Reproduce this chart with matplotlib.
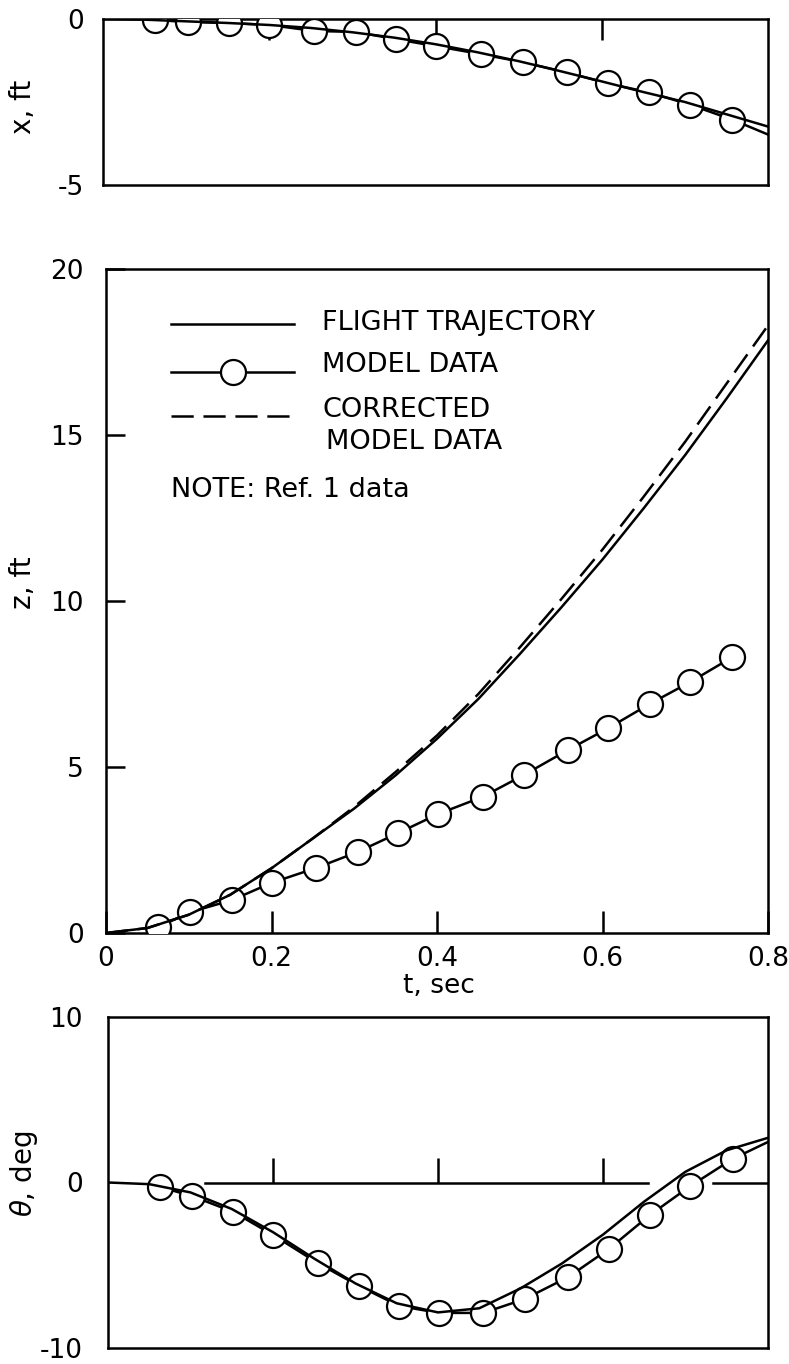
import numpy as np
import matplotlib.pyplot as plt

plt.rcParams['font.family'] = ['DejaVu Sans']
plt.rcParams['axes.unicode_minus'] = False
plt.rcParams['lines.scale_dashes'] = False

# time bases
t_fl = [0.0, 0.05, 0.10, 0.15, 0.20, 0.25, 0.30, 0.35, 0.40,
        0.45, 0.50, 0.55, 0.60, 0.65, 0.70, 0.75, 0.80]
t_mod = [0.063, 0.102, 0.152, 0.200, 0.254, 0.304, 0.353, 0.401,
         0.455, 0.505, 0.558, 0.607, 0.657, 0.706, 0.757]
t_end = 0.8

# x, ft
x_flight = [0, -0.02, -0.07, -0.12, -0.18, -0.27, -0.40, -0.56, -0.76,
            -1.00, -1.27, -1.57, -1.88, -2.20, -2.50, -2.87, -3.24]
x_model = [-0.03, -0.09, -0.12, -0.18, -0.36, -0.39, -0.61, -0.82,
           -1.06, -1.30, -1.61, -1.94, -2.21, -2.58, -3.03]
x_model_end = -3.48

# z, ft
z_flight = [0, 0.15, 0.55, 1.15, 1.95, 2.85, 3.75, 4.75, 5.85,
            7.05, 8.40, 9.80, 11.25, 12.80, 14.40, 16.10, 17.85]
z_corrected = [0, 0.15, 0.55, 1.15, 1.95, 2.85, 3.80, 4.85, 5.95,
               7.20, 8.60, 10.05, 11.55, 13.15, 14.80, 16.55, 18.30]
z_model = [0.18, 0.63, 0.99, 1.51, 1.96, 2.44, 3.01, 3.58,
           4.10, 4.76, 5.51, 6.17, 6.90, 7.56, 8.31]

# theta, deg
th_flight = [0, -0.1, -0.6, -1.6, -3.0, -4.6, -6.1, -7.3, -7.85,
             -7.6, -6.4, -4.9, -3.15, -1.15, 0.65, 1.95, 2.7]
th_model = [-0.27, -0.82, -1.78, -3.17, -4.86, -6.25, -7.46, -7.88,
            -7.88, -7.04, -5.71, -4.02, -1.96, -0.21, 1.42]
th_model_end = 2.45

t_marks = [0.2, 0.4, 0.6]
zero_spans = [(0.118, 0.655), (0.733, 0.8)]

LW = 1.8
circ = dict(marker='o', ms=18, mfc='white', mec='black', mew=1.6)

W, H = 789, 1364
fig = plt.figure(figsize=(W / 100, H / 100), dpi=100)


def box(left, top, right, bottom):
    return [left / W, 1 - bottom / H, (right - left) / W, (bottom - top) / H]


ax1 = fig.add_axes(box(103, 19, 768, 185))
ax2 = fig.add_axes(box(106, 269, 768, 933))
ax3 = fig.add_axes(box(108, 1017, 768, 1348))

for ax in (ax1, ax2, ax3):
    ax.set_xlim(0, 0.8)
    for s in ax.spines.values():
        s.set_linewidth(LW)

# --- x, ft
ax1.set_ylim(-5, 0)
ax1.plot(np.append(t_mod, t_end), np.append(x_model, x_model_end), color='black',
         lw=LW, markevery=list(range(len(t_mod))), zorder=3, **circ)
ax1.plot(t_fl, x_flight, color='black', lw=LW, zorder=4)
ax1.set_yticks([-5, 0])
ax1.set_yticklabels(['-5', '0'])
ax1.set_xticks(t_marks)
ax1.tick_params(axis='x', top=True, bottom=False, labelbottom=False,
                direction='in', length=15, width=LW)
ax1.tick_params(axis='y', length=0, pad=14, labelsize=19)
ax1.set_ylabel('x, ft', fontsize=20)
ax1.yaxis.set_label_coords(-0.099, 0.47)

# --- z, ft
ax2.set_ylim(0, 20)
ax2.plot(t_mod, z_model, color='black', lw=LW, zorder=3, **circ)
ax2.plot(t_fl, z_corrected, color='black', lw=LW, dashes=(16, 7), zorder=4)
ax2.plot(t_fl, z_flight, color='black', lw=LW, zorder=4)
ax2.set_yticks([0, 5, 10, 15, 20])
ax2.set_xticks([0, 0.2, 0.4, 0.6, 0.8])
ax2.set_xticklabels(['0', '0.2', '0.4', '0.6', '0.8'])
ax2.tick_params(axis='x', direction='in', length=16, width=LW, pad=9, labelsize=19)
ax2.tick_params(axis='y', direction='in', length=14, width=LW, pad=16, labelsize=19)
ax2.set_xlabel('t, sec', fontsize=19, labelpad=0)
ax2.xaxis.set_label_coords(0.503, -0.06)
ax2.set_ylabel('z, ft', fontsize=20)
ax2.yaxis.set_label_coords(-0.104, 0.527)

# key drawn inside the z panel
tr = ax2.transAxes
ax2.plot([0.098, 0.284], [0.917, 0.917], color='black', lw=LW, transform=tr)
ax2.plot([0.098, 0.284], [0.845, 0.845], color='black', lw=LW, transform=tr)
ax2.plot([0.192], [0.845], transform=tr, ls='none', **circ)
ax2.plot([0.098, 0.284], [0.779, 0.779], color='black', lw=LW,
         dashes=(16, 7), transform=tr)
key_fs = 19.5
kw = dict(transform=tr, fontsize=key_fs, va='baseline')
ax2.text(0.327, 0.908, 'FLIGHT TRAJECTORY', **kw)
ax2.text(0.327, 0.845, 'MODEL DATA', **kw)
ax2.text(0.327, 0.7775, 'CORRECTED', **kw)
ax2.text(0.332, 0.7295, 'MODEL DATA', **kw)
ax2.text(0.098, 0.657, 'NOTE: Ref. 1 data', **kw)

# --- theta, deg
ax3.set_ylim(-10, 10)
for a, b in zero_spans:
    ax3.plot([a, b], [0, 0], color='black', lw=LW)
ax3.vlines(t_marks, 0, 1.5, color='black', lw=LW)
ax3.plot(np.append(t_mod, t_end), np.append(th_model, th_model_end), color='black',
         lw=LW, markevery=list(range(len(t_mod))), zorder=3, **circ)
ax3.plot(t_fl, th_flight, color='black', lw=LW, zorder=4)
ax3.set_xticks([])
ax3.set_yticks([-10, 0, 10])
ax3.set_yticklabels(['-10', '0', '10'])
ax3.tick_params(axis='y', length=0, pad=18, labelsize=19)
ax3.set_ylabel(r'$\theta$, deg', fontsize=20)
ax3.yaxis.set_label_coords(-0.103, 0.526)

fig.savefig('out.png', dpi=100)
